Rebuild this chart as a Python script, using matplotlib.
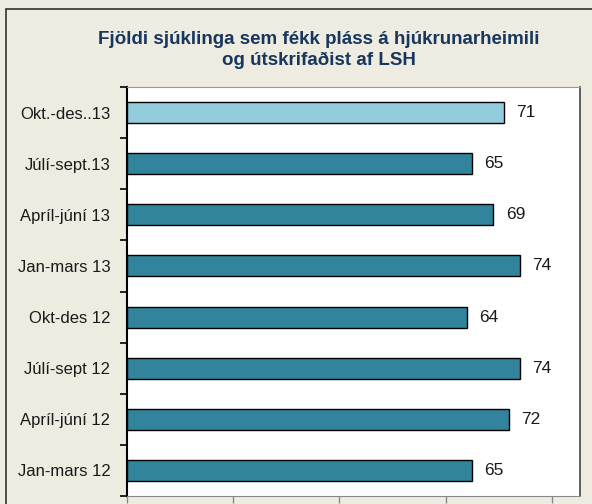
import numpy as np
import matplotlib
matplotlib.use('Agg')
import matplotlib.pyplot as plt
from matplotlib.patches import Rectangle

categories = ['Jan-mars 12', 'Apríl-júní 12', 'Júlí-sept 12', 'Okt-des 12',
              'Jan-mars 13', 'Apríl-júní 13', 'Júlí-sept.13', 'Okt.-des..13']
values = [65, 72, 74, 64, 74, 69, 65, 71]
bar_colors = ['#31849B'] * 7 + ['#93CDDD']
title = 'Fjöldi sjúklinga sem fékk pláss á hjúkrunarheimili\nog útskrifaðist af LSH'

plt.rcParams['font.family'] = ['Liberation Sans', 'DejaVu Sans']

fig = plt.figure(figsize=(5.92, 5.04), dpi=100)
fig.patch.set_facecolor('#EEECE1')

# outer chart frame
fig.patches.append(Rectangle((6 / 592, -0.05), 1.1, 1 - 9 / 504 + 0.05,
                             transform=fig.transFigure, fill=False,
                             edgecolor='#333333', linewidth=1.2))

ax = fig.add_axes([127 / 592, 8 / 504, 453 / 592, 409 / 504])
ax.set_facecolor('white')

y = np.arange(len(categories))
ax.barh(y, values, height=0.41, color=bar_colors, edgecolor='black', linewidth=1.0, zorder=3)

for yi, v in zip(y, values):
    ax.text(v + 2.3, yi, str(v), va='center', ha='left', fontsize=12.5, color='#1a1a1a')

ax.set_xlim(0, 85.3)
ax.set_ylim(-0.5, len(categories) - 0.5)
ax.set_xticks([0, 20, 40, 60, 80])
ax.set_xticklabels([])
ax.set_yticks(y)
ax.set_yticklabels(categories, fontsize=12, color='#1a1a1a')
ax.set_yticks(np.arange(-0.5, len(categories), 1), minor=True)
ax.tick_params(axis='y', which='major', length=0, pad=12)
ax.tick_params(axis='y', which='minor', length=5, width=1.2, color='black')
ax.tick_params(axis='x', length=5, width=1, color='#888888', direction='out')

ax.spines['left'].set_color('black')
ax.spines['left'].set_linewidth(1.5)
ax.spines['bottom'].set_color('#888888')
ax.spines['top'].set_color('#999999')
ax.spines['top'].set_linewidth(0.8)
ax.spines['right'].set_color('#444444')
ax.spines['right'].set_linewidth(1.2)

fig.text(319 / 592, 1 - 50 / 504, title, ha='center', va='center', fontsize=13.5,
         fontweight='bold', color='#17375E', linespacing=1.3)

fig.savefig('out.png', dpi=100, facecolor=fig.get_facecolor())
